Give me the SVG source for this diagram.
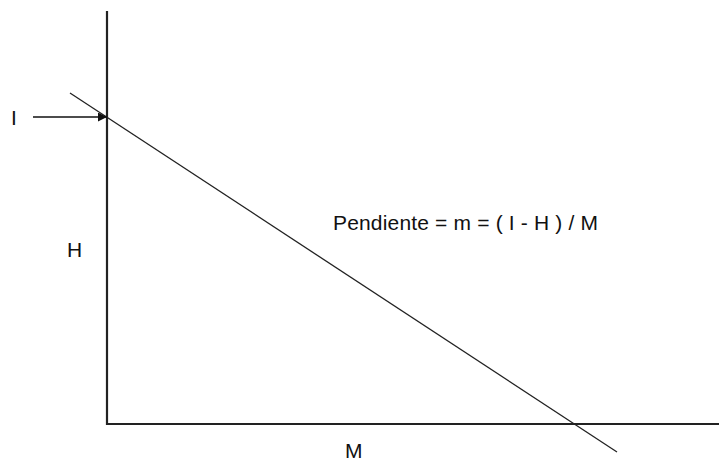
<svg xmlns="http://www.w3.org/2000/svg" width="719" height="462" viewBox="0 0 719 462">
<style>
text{font-family:"Liberation Sans",Arial,sans-serif;font-size:21px;fill:#111}
.ax{stroke:#222;stroke-width:2.2;fill:none}
.ln{stroke:#222;stroke-width:1.3;fill:none}
.ar{stroke:#111;stroke-width:1.6;fill:none}
</style>
<defs><marker id="ah" viewBox="0 0 10 10" refX="10" refY="5" markerWidth="14" markerHeight="9" markerUnits="userSpaceOnUse" orient="auto"><path d="M0,0L10,5L0,10z" fill="#111"/></marker></defs>
<rect width="719" height="462" fill="#fff"/>
<g id="axes">
<path class="ax" d="M107,11V424H719"/>
</g>
<g id="connectors">
<line class="ln" x1="70" y1="93" x2="617" y2="452"/>
<line class="ar" x1="33" y1="117" x2="107" y2="117" marker-end="url(#ah)"/>
</g>
<g id="labels">
<text x="11" y="125">I</text>
<text x="67" y="257">H</text>
<text x="345" y="458">M</text>
<text x="333" y="230" textLength="265" lengthAdjust="spacing">Pendiente = m = ( I - H ) / M</text>
</g>
</svg>
